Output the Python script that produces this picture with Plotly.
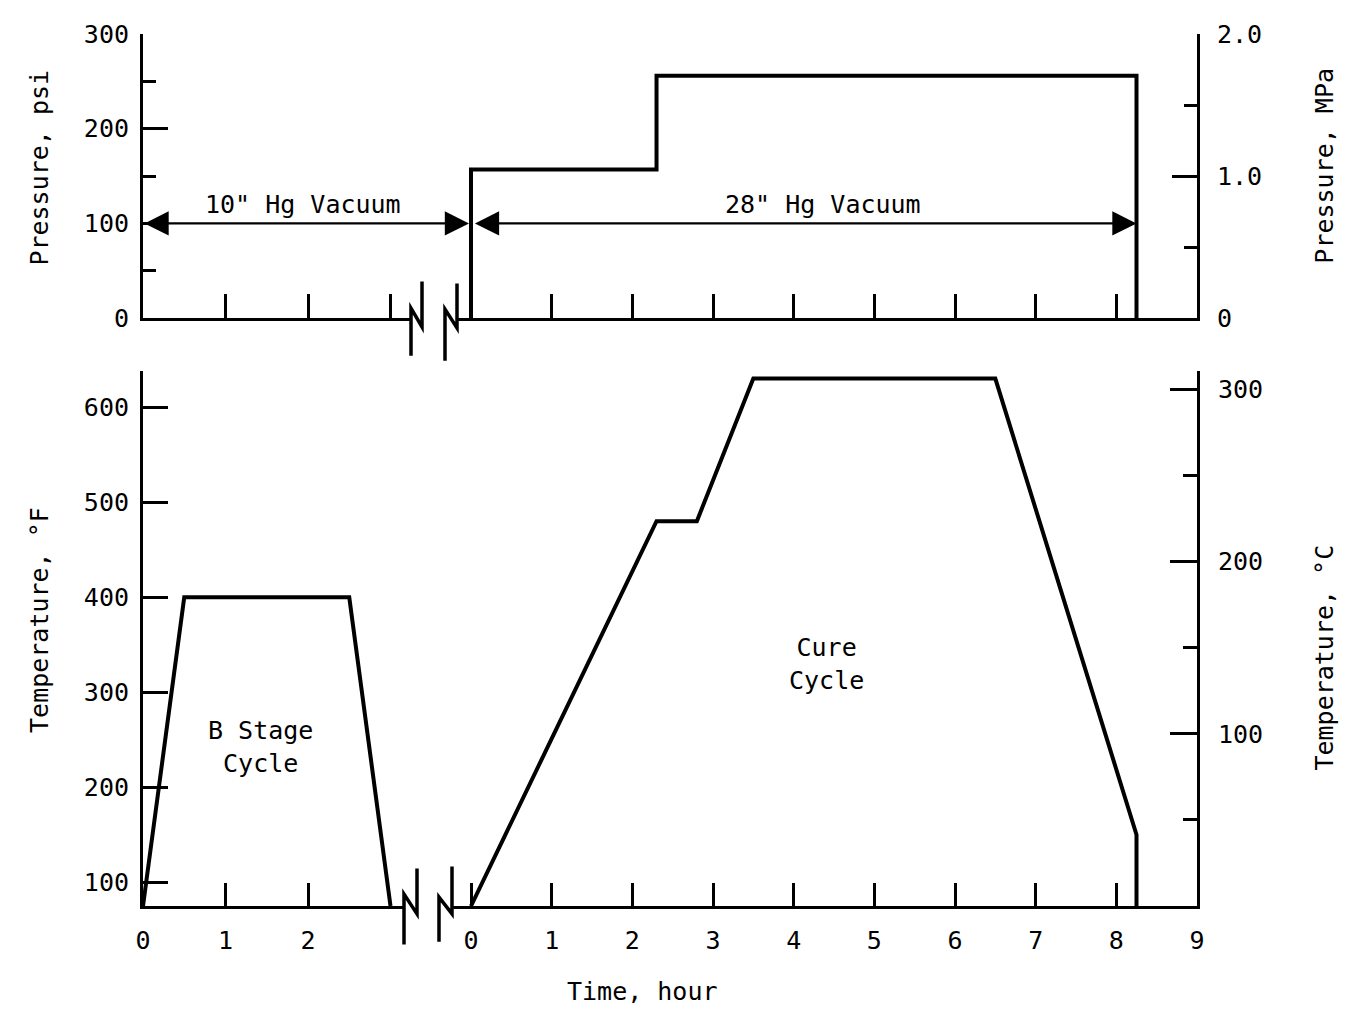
import plotly.graph_objects as go

# ---------------- data ----------------
b_stage_time = [0.0, 0.5, 2.5, 3.0]            # hour
b_stage_temp_F = [75, 400, 400, 75]            # deg F

cure_time = [0.0, 2.3, 2.8, 3.5, 6.5, 8.25, 8.25]
cure_temp_F = [75, 480, 480, 630, 630, 150, 75]

pressure_time = [0.0, 0.0, 2.3, 2.3, 8.25, 8.25]
pressure_psi = [0, 157, 157, 256, 256, 0]

vacuum_psi_level = 100
b_stage_ticks = [0, 1, 2]
b_stage_top_ticks = [1, 2, 3]
cure_ticks = [0, 1, 2, 3, 4, 5, 6, 7, 8, 9]
temp_F_ticks = [100, 200, 300, 400, 500, 600]
temp_C_ticks = [100, 200, 300]
temp_C_minor = [50, 150, 250]
psi_ticks = [0, 100, 200, 300]
psi_minor = [50, 150, 250]
mpa_ticks = [0, 1.0, 2.0]
mpa_ticktext = ["0", "1.0", "2.0"]
mpa_minor = [0.5, 1.5]

# ---------------- layout geometry (pixels, page coordinates) ----------------
W, H = 1348, 1019
BODY = 8                                      # default page body margin
PL, PR, PT, PB = 143, 1197, 25, 906          # plot area edges on the page
B_PX_PER_HR = 82.5
C_PX_PER_HR = 80.67
C_ZERO_PX = 471


def px(x):
    return (x - PL) / (PR - PL)


def py(y):
    return (PB - y) / (PB - PT)


FONT = "DejaVu Sans Mono"
FS = 25
BLACK = "black"

fig = go.Figure()
curve = dict(color=BLACK, width=4)
fig.add_trace(go.Scatter(x=b_stage_time, y=b_stage_temp_F, xaxis="x", yaxis="y",
                         mode="lines", line=curve, showlegend=False, hoverinfo="skip"))
fig.add_trace(go.Scatter(x=cure_time, y=cure_temp_F, xaxis="x2", yaxis="y",
                         mode="lines", line=curve, showlegend=False, hoverinfo="skip"))
fig.add_trace(go.Scatter(x=pressure_time, y=pressure_psi, xaxis="x4", yaxis="y3",
                         mode="lines", line=curve, showlegend=False, hoverinfo="skip"))
# empty traces so every axis pair exists
for xa, ya in [("x2", "y2"), ("x4", "y4"), ("x3", "y3")]:
    fig.add_trace(go.Scatter(x=[None], y=[None], xaxis=xa, yaxis=ya, showlegend=False,
                             hoverinfo="skip"))

common = dict(showgrid=False, zeroline=False, showline=True, linecolor=BLACK, linewidth=3,
              ticks="inside", tickcolor=BLACK, tickwidth=3,
              tickfont=dict(family=FONT, size=FS, color=BLACK))


def minor(vals, ln):
    return dict(tickmode="array", tickvals=vals, ticks="inside", ticklen=ln,
                tickwidth=3, tickcolor=BLACK, showgrid=False)


bot_b_end, bot_c_start = 404, 452
top_b_end, top_c_start = 411, 457

fig.update_layout(
    width=W - 2 * BODY, height=H - 2 * BODY, autosize=False,
    margin=dict(l=PL - BODY, r=W - PR - BODY, t=PT - BODY, b=H - PB - BODY, pad=0),
    paper_bgcolor="white", plot_bgcolor="rgba(0,0,0,0)",
    showlegend=False,
    xaxis=dict(common, domain=[0, px(bot_b_end)], anchor="y",
               range=[0, (bot_b_end - PL) / B_PX_PER_HR],
               tickmode="array", tickvals=b_stage_ticks,
               ticktext=[str(v) for v in b_stage_ticks], ticklen=23, ticklabelstandoff=10),
    xaxis2=dict(common, domain=[px(bot_c_start), 1], anchor="y",
                range=[(bot_c_start - C_ZERO_PX) / C_PX_PER_HR, 9],
                tickmode="array", tickvals=cure_ticks,
                ticktext=[str(v) for v in cure_ticks], ticklen=23, ticklabelstandoff=10),
    xaxis3=dict(common, domain=[0, px(top_b_end)], anchor="y3",
                range=[0, (top_b_end - PL) / B_PX_PER_HR],
                tickmode="array", tickvals=b_stage_top_ticks, ticklen=24,
                showticklabels=False),
    xaxis4=dict(common, domain=[px(top_c_start), 1], anchor="y3",
                range=[(top_c_start - C_ZERO_PX) / C_PX_PER_HR, 9],
                tickmode="array", tickvals=cure_ticks[:-1], ticklen=24, showticklabels=False),
    yaxis=dict(common, domain=[0, py(365)], anchor="x", range=[75, 638.5],
               tickmode="array", tickvals=temp_F_ticks, ticklen=25, ticklabelstandoff=6),
    yaxis2=dict(common, overlaying="y", side="right", anchor="x2", range=[0, 311],
                tickmode="array", tickvals=temp_C_ticks, ticklen=27, ticklabelstandoff=13,
                minor=minor(temp_C_minor, 14)),
    yaxis3=dict(common, domain=[py(312), 1], anchor="x3", range=[0, 300],
                tickmode="array", tickvals=psi_ticks, ticklen=25, ticklabelstandoff=6,
                minor=minor(psi_minor, 13)),
    yaxis4=dict(common, overlaying="y3", side="right", anchor="x4", range=[0, 2.005],
                tickmode="array", tickvals=mpa_ticks, ticktext=mpa_ticktext, ticklen=25,
                ticklabelstandoff=12, minor=minor(mpa_minor, 13)),
)

# ---------------- axis break marks ----------------
breaks = [
    [(411, 350), (411, 302), (422, 321), (422, 275)],
    [(445, 355), (445, 303), (457, 322), (457, 277)],
    [(404, 945), (404, 894), (417, 914), (417, 868)],
    [(439, 942), (439, 897), (452, 914), (452, 866)],
]
for pts in breaks:
    path = "M " + " L ".join(f"{px(a):.5f},{py(b):.5f}" for a, b in pts)
    fig.add_shape(type="path", path=path, xref="paper", yref="paper",
                  line=dict(color=BLACK, width=3.5))

# ---------------- vacuum arrows ----------------
arrow = dict(showarrow=True, text="", arrowhead=2, startarrowhead=2, arrowside="end+start",
             arrowwidth=2.2, arrowsize=2.2, startarrowsize=2.2, arrowcolor=BLACK,
             standoff=0, startstandoff=0)
fig.add_annotation(arrow, xref="paper", x=px(C_ZERO_PX - 2), yref="y3", y=vacuum_psi_level,
                   axref="pixel", ax=-(C_ZERO_PX - 2 - PL), ayref="pixel", ay=0)
fig.add_annotation(arrow, xref="x4", x=pressure_time[-1], yref="y3", y=vacuum_psi_level,
                   axref="x4", ax=0.03, ayref="y3", ay=vacuum_psi_level)

# ---------------- texts ----------------
tfont = dict(family=FONT, size=FS, color=BLACK)


def txt(s, x, y, angle=0):
    fig.add_annotation(text=s, xref="paper", yref="paper", x=px(x), y=py(y),
                       xanchor="center", yanchor="middle", showarrow=False,
                       textangle=angle, font=tfont, align="center")


txt('10" Hg Vacuum', 303, 197)
txt('28" Hg Vacuum', 823, 197)
txt("B Stage<br>Cycle", 260, 745)
txt("Cure<br>Cycle", 826, 662)
txt("Time, hour", 642, 992)
txt("Pressure, psi", 40, 160, -90)
txt("Temperature, °F", 40, 617, -90)
txt("Pressure, MPa", 1325, 158, -90)
txt("Temperature, °C", 1325, 655, -90)

fig.write_html("out.html")
